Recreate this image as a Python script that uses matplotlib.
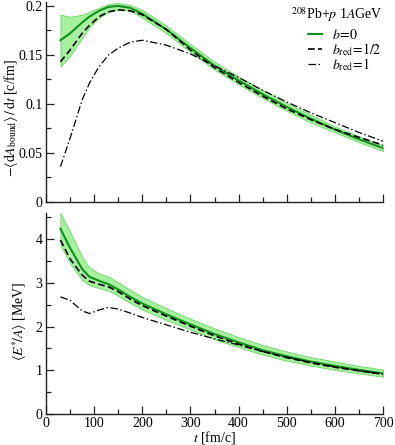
import matplotlib
matplotlib.use("Agg")
import matplotlib.pyplot as plt
from matplotlib.ticker import MultipleLocator, FixedLocator, FixedFormatter

plt.rcParams['font.family'] = ['Liberation Serif', 'DejaVu Serif']
plt.rcParams['mathtext.fontset'] = 'stix'

# ---- data ----
t = [30, 50, 75, 90, 110, 130, 150, 175, 200, 250, 300, 350, 400, 450, 500, 550, 600, 650, 700]

# top panel: -<dA_bound>/dt [c/fm]
rate_b0 = [0.165, 0.172, 0.183, 0.189, 0.195, 0.199, 0.200, 0.198, 0.192, 0.176, 0.157, 0.139, 0.124,
           0.110, 0.097, 0.085, 0.074, 0.064, 0.055]
rate_b0_hi = [0.191, 0.189, 0.191, 0.194, 0.198, 0.202, 0.203, 0.201, 0.196, 0.180, 0.161, 0.143, 0.128,
              0.114, 0.101, 0.089, 0.077, 0.067, 0.058]
rate_b0_lo = [0.138, 0.149, 0.167, 0.178, 0.188, 0.194, 0.196, 0.195, 0.188, 0.172, 0.153, 0.135, 0.120,
              0.106, 0.093, 0.081, 0.071, 0.061, 0.052]
rate_bhalf = [0.143, 0.155, 0.172, 0.180, 0.189, 0.194, 0.196, 0.195, 0.191, 0.176, 0.155, 0.137, 0.122,
              0.108, 0.095, 0.084, 0.074, 0.066, 0.058]
rate_b1 = [0.036, 0.065, 0.104, 0.121, 0.138, 0.150, 0.157, 0.163, 0.165, 0.160, 0.151, 0.139, 0.127,
           0.114, 0.102, 0.091, 0.081, 0.071, 0.062]

# bottom panel: <E*/A> [MeV]
ex_b0 = [4.24, 3.80, 3.32, 3.14, 3.05, 2.97, 2.85, 2.68, 2.53, 2.28, 2.05, 1.83, 1.64, 1.46, 1.32, 1.20,
         1.10, 1.01, 0.93]
ex_b0_hi = [4.60, 4.17, 3.60, 3.35, 3.22, 3.14, 3.01, 2.84, 2.68, 2.42, 2.18, 1.96, 1.76, 1.58, 1.43,
            1.30, 1.20, 1.10, 1.02]
ex_b0_lo = [3.87, 3.45, 3.07, 2.95, 2.88, 2.82, 2.70, 2.54, 2.39, 2.15, 1.93, 1.71, 1.53, 1.36, 1.22,
            1.11, 1.01, 0.93, 0.85]
ex_bhalf = [3.98, 3.55, 3.18, 3.04, 2.97, 2.91, 2.80, 2.63, 2.48, 2.24, 2.01, 1.79, 1.60, 1.43, 1.29,
            1.17, 1.07, 0.99, 0.91]
ex_b1 = [2.68, 2.60, 2.36, 2.30, 2.38, 2.44, 2.40, 2.31, 2.21, 2.04, 1.87, 1.72, 1.58, 1.43, 1.30, 1.18,
         1.08, 0.99, 0.91]

labels = [r"$b\!=\!0$", r"$b_{\rm red}\!=\!1/2$", r"$b_{\rm red}\!=\!1$"]
top_yticks = [0, 0.05, 0.1, 0.15, 0.2]
top_yticklabels = ["0", "0.05", "0.1", "0.15", "0.2"]
bot_yticks = [0, 1, 2, 3, 4]
xticks = [0, 100, 200, 300, 400, 500, 600, 700]

GREEN = '#12901a'
BAND = '#a6f0a0'
BANDEDGE = '#6fd46a'

fig = plt.figure(figsize=(3.95, 4.45), dpi=100)
ax1 = fig.add_axes([46/395, 1-202/445, 337/395, 200/445])
ax2 = fig.add_axes([46/395, 1-414/445, 337/395, 201/445])

def style(ax):
    for s in ['top', 'right']:
        ax.spines[s].set_visible(False)
    for s in ['left', 'bottom']:
        ax.spines[s].set_color('#222222')
        ax.spines[s].set_linewidth(1.0)
    ax.tick_params(which='both', direction='in', labelsize=10, color='#222222', width=0.9, pad=2.5)
    ax.tick_params(which='major', length=6)
    ax.tick_params(which='minor', length=3.5)
    ax.set_xlim(0, 700)
    ax.xaxis.set_major_locator(FixedLocator(xticks))
    ax.xaxis.set_minor_locator(MultipleLocator(50))

# top panel
ax1.fill_between(t, rate_b0_lo, rate_b0_hi, facecolor=BAND, edgecolor=BANDEDGE, linewidth=0.6)
ax1.plot(t, rate_b0, color=GREEN, lw=1.5, label=labels[0])
ax1.plot(t, rate_bhalf, color='black', lw=1.2, dashes=(4, 2), label=labels[1])
ax1.plot(t, rate_b1, color='black', lw=0.9, dashes=(6, 2, 1.2, 2), label=labels[2])
style(ax1)
ax1.set_ylim(0, 0.204)
ax1.yaxis.set_major_locator(FixedLocator(top_yticks))
ax1.yaxis.set_major_formatter(FixedFormatter(top_yticklabels))
ax1.yaxis.set_minor_locator(MultipleLocator(0.025))
ax1.tick_params(axis='x', labelbottom=False)
ax1.set_ylabel(r"$-\langle\mathrm{d}A_{\mathrm{bound}}\rangle\,/\,\mathrm{d}t$ [c/fm]", fontsize=10)
ax1.yaxis.set_label_coords(-0.078, 0.42)
ax1.text(1.0, 0.985, r"$^{208}$Pb+$p$ 1$A$GeV", transform=ax1.transAxes, ha='right', va='top',
         fontsize=10)
ax1.legend(loc='upper right', bbox_to_anchor=(1.02, 0.91), frameon=False, fontsize=10,
           handlelength=1.0, handletextpad=0.7, labelspacing=-0.1, borderaxespad=0.2)

# bottom panel
ax2.fill_between(t, ex_b0_lo, ex_b0_hi, facecolor=BAND, edgecolor=BANDEDGE, linewidth=0.6)
ax2.plot(t, ex_b0, color=GREEN, lw=1.5)
ax2.plot(t, ex_bhalf, color='black', lw=1.2, dashes=(4, 2))
ax2.plot(t, ex_b1, color='black', lw=0.9, dashes=(6, 2, 1.2, 2))
style(ax2)
ax2.set_ylim(0, 4.6)
ax2.yaxis.set_major_locator(FixedLocator(bot_yticks))
ax2.yaxis.set_minor_locator(MultipleLocator(0.5))
ax2.set_ylabel(r"$\langle E^{*}\!/A\rangle$ [MeV]", fontsize=10)
ax2.yaxis.set_label_coords(-0.05, 0.46)
ax2.set_xlabel(r"$t$ [fm/c]", fontsize=10, labelpad=-1)

fig.savefig("out.png", dpi=100)
